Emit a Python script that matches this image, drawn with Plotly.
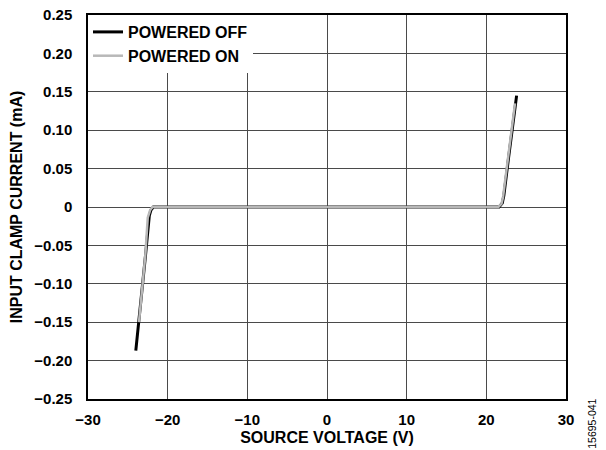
import plotly.graph_objects as go

# source voltage (V) vs input clamp current (mA)
volt_off = [-24.0, -23.4, -22.8, -22.3, -22.1, -21.8, 0.0, 21.6, 22.0, 22.2, 22.8, 23.4, 23.8]
curr_off = [-0.187, -0.130, -0.065, -0.011, -0.004, 0.0, 0.0, 0.0, 0.005, 0.015, 0.065, 0.115, 0.145]

volt_on = [-23.6, -23.2, -22.8, -22.5, -22.2, -21.9, 0.0, 21.5, 21.9, 22.1, 22.7, 23.3, 23.6]
curr_on = [-0.150, -0.108, -0.062, -0.014, -0.004, 0.0, 0.0, 0.0, 0.004, 0.013, 0.062, 0.110, 0.135]

x_ticks = [-30, -20, -10, 0, 10, 20, 30]
x_labels = ["\u221230", "\u221220", "\u221210", "0", "10", "20", "30"]
y_ticks = [0.25, 0.20, 0.15, 0.10, 0.05, 0, -0.05, -0.10, -0.15, -0.20, -0.25]
y_labels = ["0.25", "0.20", "0.15", "0.10", "0.05", "0", "\u22120.05", "\u22120.10",
            "\u22120.15", "\u22120.20", "\u22120.25"]

FONT = "Liberation Sans, Arial, sans-serif"
GRID = "#4a4a4a"

fig = go.Figure()
fig.add_trace(go.Scatter(x=volt_off, y=curr_off, mode="lines", name="POWERED OFF",
                         line=dict(color="#000000", width=3)))
fig.add_trace(go.Scatter(x=volt_on, y=curr_on, mode="lines", name="POWERED ON",
                         line=dict(color="#b8b8b8", width=2.5)))

# page body has an 8px margin, so the figure is 8px smaller than the window
fig.update_layout(
    width=598,
    height=442,
    margin=dict(l=80, r=40, t=7, b=51, autoexpand=False),
    paper_bgcolor="white",
    plot_bgcolor="white",
    font=dict(family=FONT, size=15, color="black", weight="bold"),
    legend=dict(
        x=0, y=1, xanchor="left", yanchor="top",
        bgcolor="white", borderwidth=0,
        itemwidth=30,
        font=dict(family=FONT, size=16, color="black", weight="bold"),
        tracegroupgap=0,
    ),
    annotations=[
        dict(text="15695-041", xref="paper", yref="paper", x=1.054, y=-0.065,
             xanchor="center", yanchor="middle", textangle=-90, showarrow=False,
             font=dict(family=FONT, size=10.5, color="black", weight="normal")),
    ],
)
fig.update_xaxes(
    range=[-30, 30], tickvals=x_ticks, ticktext=x_labels,
    showgrid=True, gridcolor=GRID, gridwidth=1, zeroline=False,
    showline=True, linecolor="black", linewidth=1.5, mirror=True,
    ticks="", ticklen=0, automargin=False, ticklabelstandoff=6,
    ticklabeloverflow="allow",
    title=dict(text="SOURCE VOLTAGE (V)", standoff=5,
               font=dict(family=FONT, size=16, weight="bold")),
)
fig.update_yaxes(
    range=[-0.25, 0.25], tickvals=y_ticks, ticktext=y_labels,
    showgrid=True, gridcolor=GRID, gridwidth=1, zeroline=False,
    showline=True, linecolor="black", linewidth=1.5, mirror=True,
    ticks="", ticklen=0, automargin=False, ticklabelstandoff=11,
    ticklabeloverflow="allow",
    title=dict(text="INPUT CLAMP CURRENT (mA)", standoff=18,
               font=dict(family=FONT, size=16, weight="bold")),
)

fig.write_html("out.html")
